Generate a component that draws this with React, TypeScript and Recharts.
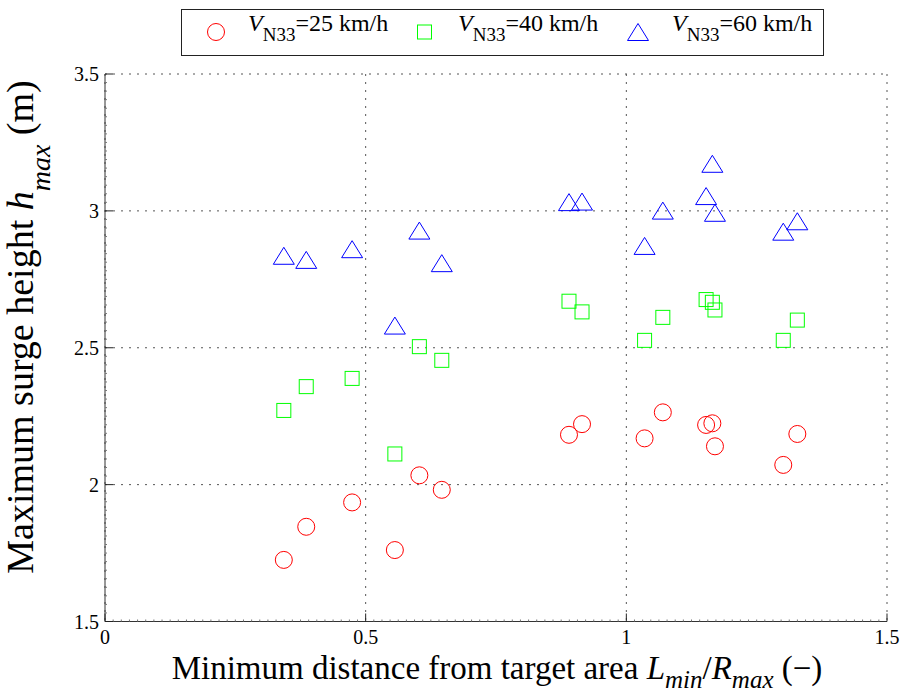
import React from "react";
import { ScatterChart, Scatter, XAxis, YAxis, CartesianGrid } from "recharts";

// Values
const xValues = [
  0.343, 0.386, 0.474, 0.556, 0.603, 0.646, 0.89, 0.915, 1.035, 1.07, 1.153,
  1.165, 1.17, 1.301, 1.328,
];
const hmax25 = [
  1.725, 1.846, 1.935, 1.761, 2.034, 1.981, 2.182, 2.221, 2.169, 2.264, 2.218,
  2.224, 2.14, 2.072, 2.185,
];
const hmax40 = [
  2.271, 2.358, 2.388, 2.112, 2.504, 2.454, 2.67, 2.631, 2.527, 2.611, 2.676,
  2.666, 2.638, 2.527, 2.601,
];
const hmax60 = [
  2.836, 2.821, 2.86, 2.581, 2.928, 2.809, 3.032, 3.034, 2.872, 3.001, 3.054,
  3.172, 2.993, 2.924, 2.962,
];
const speeds = ["25", "40", "60"];

const xTicks = [0, 0.5, 1, 1.5];
const yTicks = [1.5, 2, 2.5, 3, 3.5];

const W = 904;
const H = 695;
const X_AXIS_H = 30;
const Y_AXIS_W = 40;
const MARGIN = { top: 74, right: 17, bottom: 73.5 - X_AXIS_H, left: 105 - Y_AXIS_W };
const FONT = "Liberation Serif, DejaVu Serif, Noto Serif, Times New Roman, serif";

const RED = "#ff0000";
const GREEN = "#00ff00";
const BLUE = "#0000ff";

// minor tick positions along the axes
const xMinor: number[] = [];
for (let i = 0; i <= 96; i++) xMinor.push(i / 64);
const yMinor: number[] = [];
for (let i = 0; i <= 64; i++) yMinor.push(1.5 + i / 32);

const isMajor = (v: number, majors: number[]) => majors.some((m) => Math.abs(m - v) < 1e-9);

const toPoints = (ys: number[]) => xValues.map((x, i) => ({ x, y: ys[i] }));

const X_MARGIN = 8;
const Y_MARGIN = 6;

function XTick({ x, y, payload }: any) {
  const v = payload.value;
  const major = isMajor(v, xTicks);
  const y0 = y - X_MARGIN;
  return (
    <g>
      <line x1={x} x2={x} y1={y0} y2={y0 - (major ? 8 : 2)} stroke={major ? "#222" : "#777"} />
      {major && (
        <text x={x} y={y} dy="0.71em" textAnchor="middle" fontFamily={FONT} fontSize={20} fill="#000">
          {String(v)}
        </text>
      )}
    </g>
  );
}

function YTick({ x, y, payload }: any) {
  const v = payload.value;
  const major = isMajor(v, yTicks);
  const x0 = x + Y_MARGIN;
  return (
    <g>
      <line x1={x0} x2={x0 + (major ? 8 : 2)} y1={y} y2={y} stroke={major ? "#222" : "#777"} />
      {major && (
        <text x={x} y={y} dy="0.355em" textAnchor="end" fontFamily={FONT} fontSize={20} fill="#000">
          {String(v)}
        </text>
      )}
    </g>
  );
}

function CircleMark({ cx, cy, color = RED }: any) {
  return <circle cx={cx} cy={cy} r={8.5} fill="none" stroke={color} strokeWidth={1} />;
}
function SquareMark({ cx, cy, color = GREEN }: any) {
  return <rect x={cx - 7} y={cy - 7} width={14} height={14} fill="none" stroke={color} strokeWidth={1} />;
}
function TriangleMark({ cx, cy, color = BLUE }: any) {
  return (
    <polygon
      points={`${cx},${cy - 8.5} ${cx + 10.5},${cy + 8.5} ${cx - 10.5},${cy + 8.5}`}
      fill="none"
      stroke={color}
      strokeWidth={1}
    />
  );
}

const legendItems = [
  { mark: CircleMark, color: RED, mx: 35, tx: 67 },
  { mark: SquareMark, color: GREEN, mx: 243.5, tx: 277 },
  { mark: TriangleMark, color: BLUE, mx: 457, tx: 491 },
];

function Legend() {
  return (
    <svg
      width={643}
      height={47}
      style={{ position: "absolute", left: 181, top: 8.5, overflow: "visible" }}
    >
      <rect x={0.5} y={0.5} width={642} height={46} fill="#fff" stroke="#222" strokeWidth={1} />
      {legendItems.map((it, i) => {
        const Mark = it.mark;
        return (
          <g key={i}>
            <Mark cx={it.mx} cy={23} color={it.color} />
            <text x={it.tx} y={21.5} fontFamily={FONT} fontSize={24} fill="#000">
              <tspan fontStyle="italic">V</tspan>
              <tspan fontSize={19} dy={10}>N33</tspan>
              <tspan dy={-10}>={speeds[i]} km/h</tspan>
            </text>
          </g>
        );
      })}
    </svg>
  );
}

function AxisTitles() {
  return (
    <svg
      width={W}
      height={H}
      style={{ position: "absolute", left: 0, top: 0, pointerEvents: "none" }}
    >
      <text x={497} y={679} textAnchor="middle" fontFamily={FONT} fontSize={33} fill="#000">
        Minimum distance from target area{" "}
        <tspan fontStyle="italic">L</tspan>
        <tspan fontStyle="italic" fontSize={25} dy={9}>min</tspan>
        <tspan dy={-9}>/</tspan>
        <tspan fontStyle="italic">R</tspan>
        <tspan fontStyle="italic" fontSize={25} dy={9}>max</tspan>
        <tspan dy={-9}> (−)</tspan>
      </text>
      <text
        x={33}
        y={327}
        transform="rotate(-90, 33, 327)"
        textAnchor="middle"
        fontFamily={FONT}
        fontSize={38}
        fill="#000"
      >
        Maximum surge height <tspan fontStyle="italic">h</tspan>
        <tspan fontStyle="italic" fontSize={28} dy={17}>max</tspan>
        <tspan dy={-17}> (m)</tspan>
      </text>
    </svg>
  );
}

export default function App() {
  return (
    <div style={{ position: "absolute", left: 0, top: 0, width: W, height: H, background: "#fff" }}>
      <ScatterChart width={W} height={H} margin={MARGIN}>
        <CartesianGrid
          stroke="#555"
          strokeDasharray="2 6"
          horizontalValues={yTicks}
          verticalValues={xTicks}
        />
        <XAxis
          type="number"
          dataKey="x"
          domain={[0, 1.5]}
          allowDataOverflow
          ticks={xMinor}
          interval={0}
          height={X_AXIS_H}
          tickLine={false}
          tickSize={0}
          tickMargin={X_MARGIN}
          tick={<XTick />}
          axisLine={{ stroke: "#333" }}
        />
        <YAxis
          type="number"
          dataKey="y"
          domain={[1.5, 3.5]}
          allowDataOverflow
          ticks={yMinor}
          interval={0}
          width={Y_AXIS_W}
          tickLine={false}
          tickSize={0}
          tickMargin={Y_MARGIN}
          tick={<YTick />}
          axisLine={{ stroke: "#333" }}
        />
        <Scatter data={toPoints(hmax25)} shape={<CircleMark />} isAnimationActive={false} />
        <Scatter data={toPoints(hmax40)} shape={<SquareMark />} isAnimationActive={false} />
        <Scatter data={toPoints(hmax60)} shape={<TriangleMark />} isAnimationActive={false} />
      </ScatterChart>
      <Legend />
      <AxisTitles />
    </div>
  );
}
